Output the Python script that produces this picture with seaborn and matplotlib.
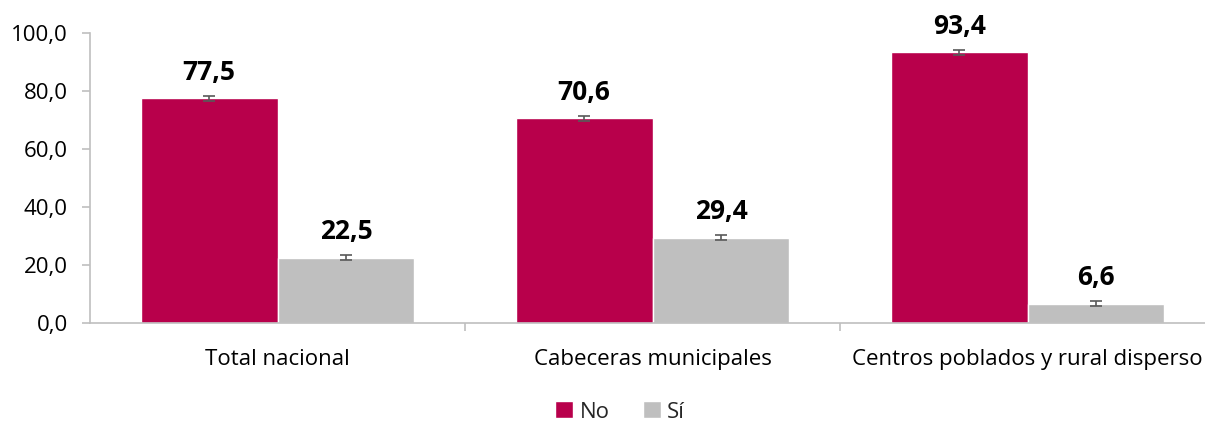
import matplotlib
matplotlib.use("Agg")
import matplotlib.pyplot as plt
import seaborn as sns
import pandas as pd
from matplotlib.patches import Patch

categories = ["Total nacional", "Cabeceras municipales", "Centros poblados y rural disperso"]
series = ["No", "Sí"]
values_no = [77.5, 70.6, 93.4]
values_si = [22.5, 29.4, 6.6]
err_no = [0.8, 0.9, 0.9]
err_si = [0.8, 0.9, 0.9]
yticks = [0, 20, 40, 60, 80, 100]

colors = {"No": "#B8004B", "Sí": "#BFBFBF"}

sns.set_theme(style="white")
plt.rcParams["font.family"] = ["Open Sans", "DejaVu Sans"]

df = pd.DataFrame({
    "cat": categories * 2,
    "serie": ["No"] * 3 + ["Sí"] * 3,
    "val": values_no + values_si,
    "err": err_no + err_si,
})

fig = plt.figure(figsize=(12.05, 4.24), dpi=100)
ax = fig.add_axes([90 / 1205, (424 - 323) / 424, 1125 / 1205, 290 / 424])

sns.barplot(data=df, x="cat", y="val", hue="serie", palette=colors,
            width=0.73, gap=0, errorbar=None, ax=ax, legend=False, saturation=1)

bars = [p for p in ax.patches if p.get_height() > 0]
vals = values_no + values_si
errs = err_no + err_si
for p, v, e in zip(bars, vals, errs):
    cx = p.get_x() + p.get_width() / 2
    ax.errorbar(cx, v, yerr=e, fmt="none", ecolor="#595959", elinewidth=1.2,
                capsize=4, capthick=1.2, zorder=5)
    ax.annotate(f"{v:.1f}".replace(".", ","), (cx, v), xytext=(0, 9),
                textcoords="offset points", ha="center", va="bottom",
                fontsize=19, fontweight="bold", color="black")

ax.set_ylim(0, 100)
ax.set_xlim(-0.5, 2.5)
ax.set_yticks(yticks)
ax.set_yticklabels([f"{t:.1f}".replace(".", ",") for t in yticks], fontsize=16)
ax.set_xticks([0, 1, 2])
ax.set_xticklabels(categories, fontsize=16)
ax.set_xlabel("")
ax.set_ylabel("")

for s in ["top", "right"]:
    ax.spines[s].set_visible(False)
for s in ["left", "bottom"]:
    ax.spines[s].set_color("#BFBFBF")
    ax.spines[s].set_linewidth(1.2)

ax.tick_params(axis="y", which="major", left=True, length=6, color="#BFBFBF",
               width=1.2, pad=10, labelcolor="black")
ax.tick_params(axis="x", which="major", bottom=False, pad=13, labelcolor="black")
ax.set_xticks([0.5, 1.5], minor=True)
ax.tick_params(axis="x", which="minor", bottom=True, length=6, color="#BFBFBF", width=1.2)

handles = [Patch(facecolor=colors[s], label=s) for s in series]
fig.legend(handles=handles, loc="center", bbox_to_anchor=(620 / 1205, 1 - 412 / 424),
           ncol=2, frameon=False, fontsize=16, handlelength=0.8, handleheight=0.8,
           handletextpad=0.3, columnspacing=1.5)

fig.savefig("out.png", dpi=100)
